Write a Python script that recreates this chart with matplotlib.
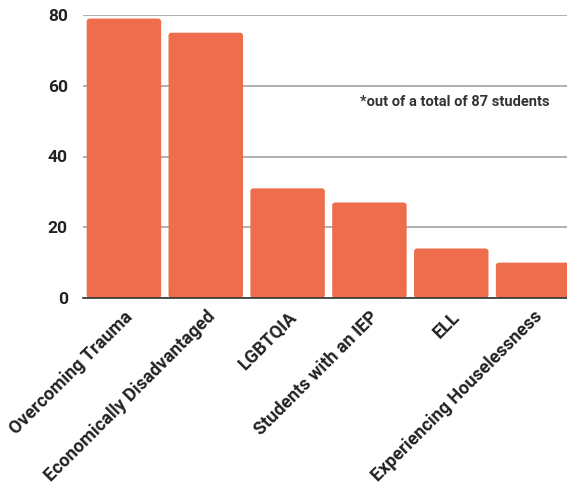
import matplotlib.pyplot as plt
import numpy as np
from matplotlib.patches import FancyBboxPatch

# Student groups (counts out of 87 students)
groups = ['Overcoming Trauma', 'Economically Disadvantaged', 'LGBTQIA',
          'Students with an IEP', 'ELL', 'Experiencing Houselessness']
counts = [79, 75, 31, 27, 14, 10]
yticks = [0, 20, 40, 60, 80]

plt.rcParams['font.family'] = ['Roboto', 'DejaVu Sans']

fig = plt.figure(figsize=(5.67, 4.97), dpi=100)
ax = fig.add_axes([83 / 567, 1 - 298 / 497, 491 / 567, 283 / 497])

x = np.arange(len(groups))
bars = ax.bar(x, counts, width=0.91, color='#EE6D4D', zorder=3)

# slightly rounded bar corners
for b in bars:
    b.set_visible(False)
    rb = FancyBboxPatch((b.get_x(), b.get_y()), b.get_width(), b.get_height(),
                        boxstyle='round,pad=0,rounding_size=0.04',
                        mutation_aspect=22, facecolor='#EE6D4D',
                        edgecolor='none', zorder=3)
    ax.add_patch(rb)

ax.set_xlim(-0.5, len(groups) - 0.5)
ax.set_ylim(0, 80)
ax.set_yticks(yticks)
ax.set_yticklabels([str(v) for v in yticks], fontsize=12.5, fontweight='bold', color='#222222')
ax.yaxis.grid(True, color='#aaaaaa', linewidth=1.3, zorder=0)
ax.tick_params(axis='y', length=0, pad=11)
ax.tick_params(axis='x', length=0, pad=7)

ax.set_xticks(x)
ax.set_xticklabels(groups, rotation=45, ha='right', rotation_mode='anchor',
                   fontsize=13, fontweight='bold', color='#222222')

for s in ['top', 'right', 'left']:
    ax.spines[s].set_visible(False)
ax.spines['bottom'].set_color('#333333')
ax.spines['bottom'].set_linewidth(1.2)
ax.spines['bottom'].set_zorder(4)

ax.text(0.97, 1 - 102 / 497, '*out of a total of 87 students', transform=fig.transFigure,
        ha='right', va='center', fontsize=10.5, fontweight='bold', color='#333333')

plt.savefig('out.png', dpi=100)
